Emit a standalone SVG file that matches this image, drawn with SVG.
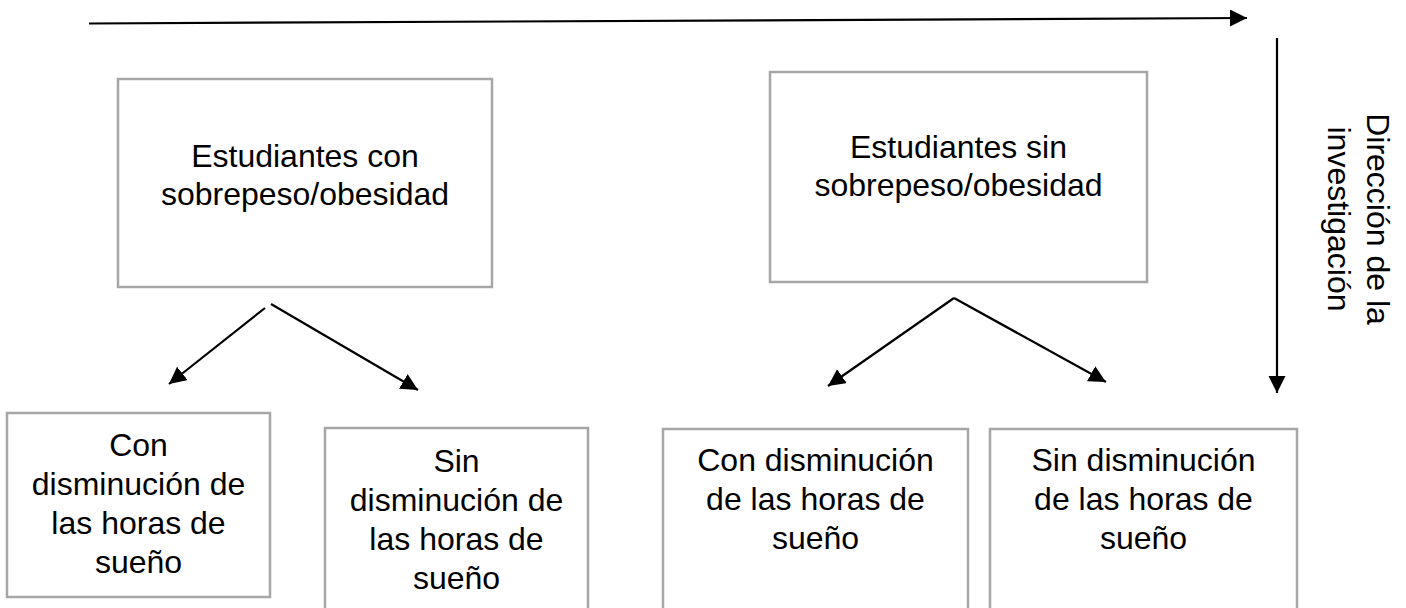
<svg xmlns="http://www.w3.org/2000/svg" width="1406" height="608" viewBox="0 0 1406 608">
<style>
.box{fill:#ffffff;stroke:#a6a6a6;stroke-width:2.5}
.lbl{font-family:"Liberation Sans",Arial,sans-serif;font-size:32px;fill:#000000;text-anchor:middle}
.conn{stroke:#000000;stroke-width:2.2;fill:none;marker-end:url(#arrow)}
</style>
<defs>
<marker id="arrow" markerUnits="userSpaceOnUse" markerWidth="18" markerHeight="18" refX="17" refY="8.5" orient="auto">
<path d="M0,0 L17,8.5 L0,17 z" fill="#000000"/>
</marker>
</defs>
<rect width="1406" height="608" fill="#ffffff"/>
<g id="connectors">
<line class="conn" x1="89" y1="23.5" x2="1247" y2="18"/>
<line class="conn" x1="1277" y1="38" x2="1277" y2="393"/>
<line class="conn" x1="265" y1="308" x2="169" y2="384"/>
<line class="conn" x1="271" y1="304" x2="418" y2="390"/>
<line class="conn" x1="954" y1="298" x2="828" y2="386"/>
<line class="conn" x1="954" y1="298" x2="1106" y2="382"/>
</g>
<g id="direction-label">
<text class="lbl" transform="translate(1367,219) rotate(90)"><tspan x="0" y="0">Dirección de la</tspan><tspan x="0" y="39">investigación</tspan></text>
</g>
<g id="node-con-sobrepeso">
<rect class="box" x="118" y="79" width="374" height="208"/>
<text class="lbl"><tspan x="305" y="167">Estudiantes con</tspan><tspan x="305" y="205">sobrepeso/obesidad</tspan></text>
</g>
<g id="node-sin-sobrepeso">
<rect class="box" x="770" y="72" width="377" height="210"/>
<text class="lbl"><tspan x="958.5" y="158">Estudiantes sin</tspan><tspan x="958.5" y="196">sobrepeso/obesidad</tspan></text>
</g>
<g id="node-a-con">
<rect class="box" x="7" y="413" width="263" height="184"/>
<text class="lbl"><tspan x="138.5" y="456">Con</tspan><tspan x="138.5" y="495">disminución de</tspan><tspan x="138.5" y="534">las horas de</tspan><tspan x="138.5" y="573">sueño</tspan></text>
</g>
<g id="node-a-sin">
<rect class="box" x="325" y="428" width="263" height="200"/>
<text class="lbl"><tspan x="456.5" y="472">Sin</tspan><tspan x="456.5" y="511">disminución de</tspan><tspan x="456.5" y="550">las horas de</tspan><tspan x="456.5" y="589">sueño</tspan></text>
</g>
<g id="node-b-con">
<rect class="box" x="663" y="429" width="305" height="200"/>
<text class="lbl"><tspan x="815.5" y="471">Con disminución</tspan><tspan x="815.5" y="510">de las horas de</tspan><tspan x="815.5" y="549">sueño</tspan></text>
</g>
<g id="node-b-sin">
<rect class="box" x="990" y="429" width="307" height="200"/>
<text class="lbl"><tspan x="1143.5" y="471">Sin disminución</tspan><tspan x="1143.5" y="510">de las horas de</tspan><tspan x="1143.5" y="549">sueño</tspan></text>
</g>
</svg>
